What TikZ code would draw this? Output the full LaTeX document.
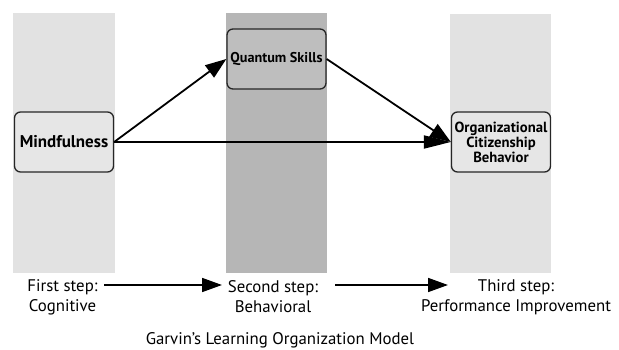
\documentclass[tikz,border=0pt]{standalone}
\usepackage{fontspec}
\setmainfont{PT Sans}
\usetikzlibrary{arrows.meta}
\definecolor{panelLight}{HTML}{E2E2E2}
\definecolor{panelDark}{HTML}{B6B6B6}
\definecolor{boxLight}{HTML}{E6E6E6}
\definecolor{boxDark}{HTML}{BEBEBE}
\tikzset{
  x=1pt, y=1pt,
  construct/.style={draw=black!85, line width=1.3pt, rounded corners=6pt,
    minimum width=99pt, minimum height=60pt, inner sep=1pt, align=center,
    font=\bfseries\fontsize{17}{18}\selectfont},
  relation/.style={line width=1.8pt, -{Triangle[length=21pt,width=15pt]}},
  stage/.style={align=center, font=\fontsize{16.8}{20}\selectfont},
  stagearrow/.style={line width=1.7pt, -{Triangle[length=20pt,width=14pt]}},
}
\begin{document}
\begin{tikzpicture}
  \useasboundingbox (0,0) rectangle (619,-350);
  % background columns for the three steps
  \fill[panelLight] (13,-13) rectangle (115,-273);
  \fill[panelDark] (226,-13) rectangle (327,-273);
  \fill[panelLight] (450,-14) rectangle (551,-273);
  % constructs
  \node[construct, fill=boxLight] (mind) at (64,-142) {Mindfulness};
  \node[construct, fill=boxDark, font=\bfseries\fontsize{14.2}{15}\selectfont]
        (qs) at (276.5,-59) {Quantum Skills};
  \node[construct, fill=boxLight, font=\bfseries\fontsize{14.7}{15}\selectfont]
        (ocb) at (501,-142) {Organizational\\Citizenship\\Behavior};
  % relations
  \draw[relation] (mind.east) -- (qs.west);
  \draw[relation] (qs.east) -- (ocb.west);
  \draw[relation, -{Triangle[length=27pt,width=13pt]}] (mind.east) -- (ocb.west);
  % steps of the learning model
  \node[stage] (s1) at (62.5,-297) {First step:\\Cognitive};
  \node[stage] (s2) at (273,-297) {Second step:\\Behavioral};
  \node[stage] (s3) at (516,-297) {Third step:\\Performance Improvement};
  \coordinate (a1s) at (104,-285);
  \coordinate (a1e) at (222,-285);
  \coordinate (a2s) at (335,-285);
  \coordinate (a2e) at (448,-285);
  \draw[stagearrow] (a1s) -- (a1e);
  \draw[stagearrow] (a2s) -- (a2e);
  \node[font=\fontsize{16.8}{20}\selectfont] (cap) at (280,-340)
    {Garvin’s Learning Organization Model};
\end{tikzpicture}
\end{document}
